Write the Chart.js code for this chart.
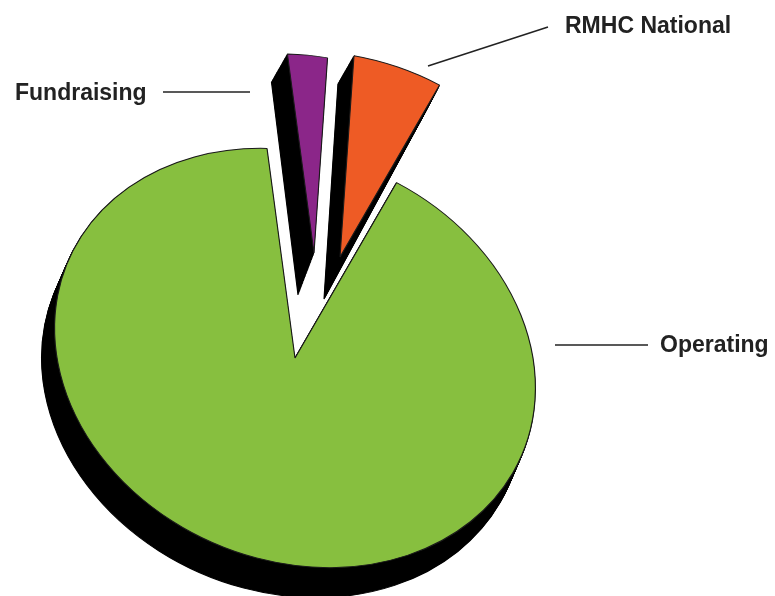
<!DOCTYPE html>
<html><head><meta charset="utf-8">
<style>html,body{margin:0;padding:0;background:#fff}canvas{display:block;filter:blur(0.5px)}</style>
<script src="https://cdn.jsdelivr.net/npm/chart.js@4/dist/chart.umd.min.js"></script>
</head><body><canvas id="c" width="775" height="596"></canvas>
<script>
const categories = ['Operating', 'Fundraising', 'RMHC National'];
const values = [91.2, 2.8, 6.0];
const colors = ['#87BF3F', '#8B2689', '#EE5B25'];
const sliceShifts = [[0, 0], [19, -105], [45, -101]];
const sliceScales = [1, 0.95, 0.98];
const shadowOffsets = [[-13, 30, 1], [-16, 42, 1.07], [-16, 42, 1.07]];
const calloutLines = [[[555,345],[648,345]], [[163,92],[250,92]], [[428,66],[548,27]]];
const labelSpots = [[660,346], [15,94], [565,27]];
const A = 241/210, C = 30/210, D = 208/210, STEPS = 30;

const pieStyle = {
  id: 'pieStyle',
  beforeDatasetDraw(chart) {
    const ctx = chart.ctx, arcs = chart.getDatasetMeta(0).data;
    const cx = arcs[0].x, cy = arcs[0].y;
    const place = (i, t) => {
      const o = shadowOffsets[i], k = sliceScales[i];
      ctx.translate(cx + sliceShifts[i][0] + o[0]*t, cy + sliceShifts[i][1] + o[1]*t);
      ctx.scale(1, 1 + (o[2]-1)*t);
      ctx.transform(A*k, C*k, 0, D*k, 0, 0);
      ctx.translate(-cx, -cy);
    };
    arcs.forEach((arc, i) => {
      const sh = Object.create(arc);
      sh.options = {...arc.options, backgroundColor:'#000', borderColor:'#000'};
      for (let s = STEPS; s >= 1; s--) {
        ctx.save(); place(i, s/STEPS); sh.draw(ctx); ctx.restore();
      }
    });
    arcs.forEach((arc, i) => { ctx.save(); place(i, 0); arc.draw(ctx); ctx.restore(); });
    return false;
  },
  afterDraw(chart) {
    const ctx = chart.ctx;
    ctx.save();
    ctx.strokeStyle = '#222'; ctx.lineWidth = 1.5;
    calloutLines.forEach(l => { ctx.beginPath(); ctx.moveTo(l[0][0],l[0][1]); ctx.lineTo(l[1][0],l[1][1]); ctx.stroke(); });
    ctx.fillStyle = '#222'; ctx.font = 'bold 23px "Liberation Sans"'; ctx.textBaseline = 'middle'; ctx.textAlign='left';
    categories.forEach((t, i) => { const p = labelSpots[i]; ctx.fillText(t, p[0], p[1]); });
    ctx.restore();
  }
};
new Chart(document.getElementById('c'), {
  type: 'pie',
  data: { labels: categories, datasets: [{ data: values, backgroundColor: colors, borderColor:'#1a1a1a', borderWidth:1 }] },
  options: {
    responsive: false, animation: false, rotation: 25,
    layout: { padding: { left:85, right:270, top:148, bottom:28 } },
    plugins: { legend:{display:false}, tooltip:{enabled:false} },
    events: []
  },
  plugins: [pieStyle]
});
</script></body></html>
